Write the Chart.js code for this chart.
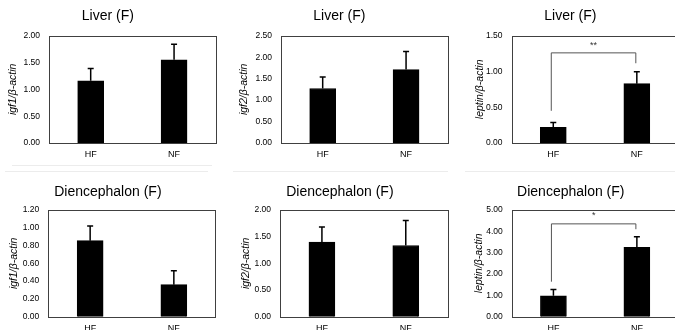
<!DOCTYPE html>
<html>
<head>
<meta charset="utf-8">
<script src="https://cdn.jsdelivr.net/npm/chart.js@4.4.1/dist/chart.umd.min.js"></script>
<style>
  html, body { margin: 0; padding: 0; background: #fff; }
  body { width: 675px; height: 330px; overflow: hidden; position: relative; }
  canvas { position: absolute; }
  .sep { position: absolute; height: 1px; background: #ececec; }
</style>
</head>
<body>
<div class="sep" style="left:12px; top:165px; width:200px;"></div>
<div class="sep" style="left:5px; top:171px; width:203px;"></div>
<div class="sep" style="left:233px; top:171px; width:215px;"></div>
<div class="sep" style="left:465px; top:171px; width:210px;"></div>
<canvas id="c0" width="222" height="165"></canvas>
<canvas id="c1" width="222" height="165"></canvas>
<canvas id="c2" width="222" height="165"></canvas>
<canvas id="c3" width="222" height="175"></canvas>
<canvas id="c4" width="222" height="175"></canvas>
<canvas id="c5" width="222" height="175"></canvas>
<script>
// data
const groups = ['HF', 'NF'];
const titles = ['Liver (F)', 'Liver (F)', 'Liver (F)', 'Diencephalon (F)', 'Diencephalon (F)', 'Diencephalon (F)'];
const yTitles = ['igf1/β-actin', 'igf2/β-actin', 'leptin/β-actin', 'igf1/β-actin', 'igf2/β-actin', 'leptin/β-actin'];
const means = [[1.16, 1.55], [1.27, 1.71], [0.22, 0.83], [0.855, 0.36], [1.40, 1.335], [0.98, 3.25]];
const errors = [[0.23, 0.29], [0.27, 0.42], [0.065, 0.165], [0.165, 0.157], [0.28, 0.47], [0.30, 0.50]];
const yMax = [2, 2.5, 1.5, 1.2, 2, 5];
const yStep = [0.5, 0.5, 0.5, 0.2, 0.5, 1];
// significance brackets: [left foot, top, right foot] in y units
const sigMarks = [null, null, '**', null, null, '*'];
const sigBracket = [null, null, [0.45, 1.26, 1.115], null, null, [1.64, 4.35, 4.10]];
const sigLabelY = [null, null, 1.36, null, null, 4.72];

// layout
const canvasLeft = [0, 231, 462, 0, 232, 463];
const canvasTop = [0, 0, 0, 165, 165, 165];
const axisW = [49, 50, 49.5, 48.3, 48, 48.7];
const padRight = [6.25, 5.25, 5.4, 6.3, 6.3, 6.4];
const yTitlePad = [6.7, 7.2, 11.7, 8.2, 7.7, 9.7];
const FONT = "'Liberation Sans', Arial, sans-serif";

const panelDecor = {
  id: 'panelDecor',
  afterDatasetsDraw(chart, args, opts) {
    const i = opts.index;
    const { ctx, chartArea: a, scales: { x, y } } = chart;
    ctx.save();
    // error bars
    ctx.strokeStyle = '#000';
    ctx.lineWidth = 1.5;
    means[i].forEach((m, j) => {
      const px = x.getPixelForValue(j);
      const y0 = y.getPixelForValue(m);
      const y1 = y.getPixelForValue(m + errors[i][j]);
      ctx.beginPath();
      ctx.moveTo(px, y0);
      ctx.lineTo(px, y1);
      ctx.moveTo(px - 3, y1);
      ctx.lineTo(px + 3, y1);
      ctx.stroke();
    });
    // frame
    ctx.strokeStyle = '#404040';
    ctx.lineWidth = 1;
    ctx.strokeRect(Math.round(a.left) + 0.5, Math.round(a.top) + 0.5, Math.round(a.width), Math.round(a.height));
    // bracket
    if (sigBracket[i]) {
      const [l, t, r] = sigBracket[i];
      const x0 = x.getPixelForValue(0) - 2;
      const x1 = x.getPixelForValue(1) - 1;
      ctx.strokeStyle = '#555';
      ctx.lineWidth = 1;
      ctx.beginPath();
      ctx.moveTo(x0, y.getPixelForValue(l));
      ctx.lineTo(x0, y.getPixelForValue(t));
      ctx.lineTo(x1, y.getPixelForValue(t));
      ctx.lineTo(x1, y.getPixelForValue(r));
      ctx.stroke();
      ctx.fillStyle = '#333';
      ctx.font = '9px ' + FONT;
      ctx.textAlign = 'center';
      ctx.textBaseline = 'middle';
      ctx.fillText(sigMarks[i], (x0 + x1) / 2, y.getPixelForValue(sigLabelY[i]));
    }
    ctx.restore();
  }
};

for (let i = 0; i < 6; i++) {
  const el = document.getElementById('c' + i);
  el.style.left = canvasLeft[i] + 'px';
  el.style.top = canvasTop[i] + 'px';
  const bottomRow = i >= 3;
  new Chart(el, {
    type: 'bar',
    data: {
      labels: groups,
      datasets: [{
        data: means[i],
        backgroundColor: '#000',
        borderColor: '#000',
        borderWidth: 1,
        barThickness: 26
      }]
    },
    options: {
      responsive: false,
      animation: false,
      layout: { padding: { left: 0, right: padRight[i], top: 0, bottom: 0 } },
      scales: {
        x: {
          grid: { display: false, drawTicks: false },
          border: { display: false },
          ticks: { color: '#000', font: { family: FONT, size: 9 }, padding: 6 },
          afterFit: (s) => { s.height = bottomRow ? 23.3 : 22; }
        },
        y: {
          min: 0,
          max: yMax[i],
          grid: { display: false, drawTicks: false },
          border: { display: false },
          ticks: {
            stepSize: yStep[i],
            color: '#000',
            padding: 9,
            font: { family: FONT, size: 8.5 },
            callback: (v) => Number(v).toFixed(2)
          },
          title: {
            display: true,
            text: yTitles[i],
            color: '#000',
            font: { family: FONT, size: 10.5, style: 'italic' },
            padding: { top: yTitlePad[i], bottom: 0 }
          },
          afterFit: (s) => { s.width = axisW[i]; }
        }
      },
      plugins: {
        legend: { display: false },
        tooltip: { enabled: false },
        title: {
          display: true,
          text: titles[i],
          color: '#000',
          font: { family: FONT, size: 14, weight: 'normal' },
          padding: bottomRow ? { top: 18.3, bottom: 9.9 } : { top: 7.3, bottom: 11.6 }
        },
        panelDecor: { index: i }
      }
    },
    plugins: [panelDecor]
  });
}
</script>
</body>
</html>
